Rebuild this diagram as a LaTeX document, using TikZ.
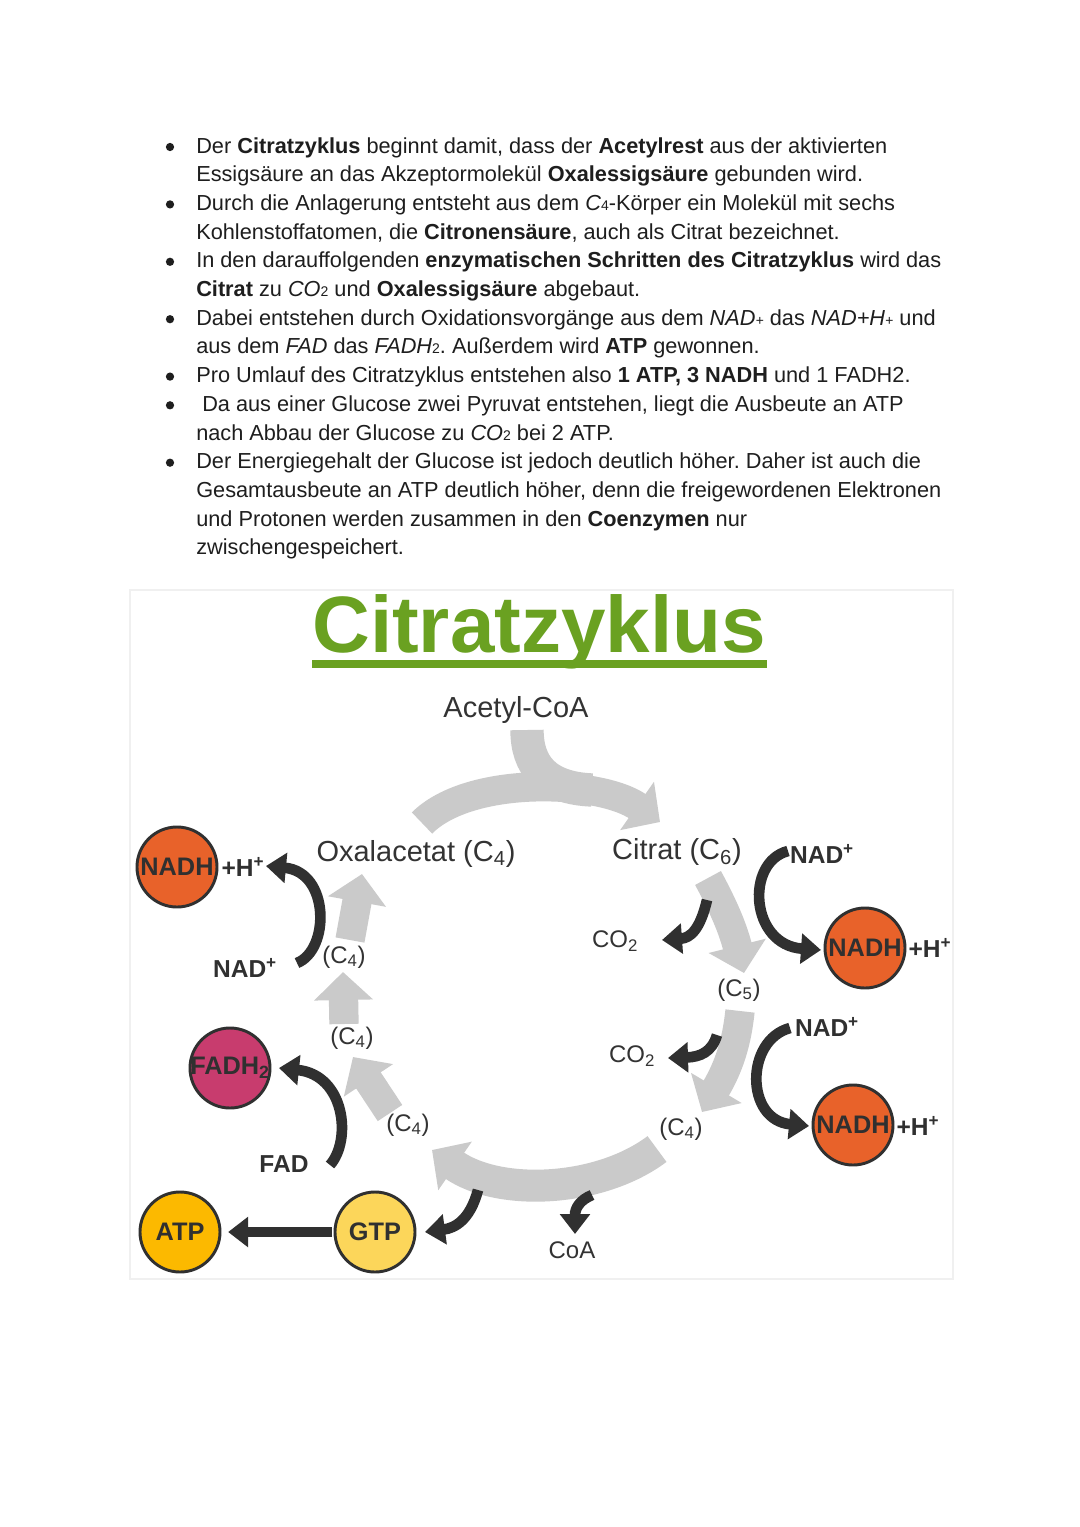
\documentclass[tikz,border=0pt]{standalone}
\usepackage{fontspec}
\setmainfont{Liberation Sans}
\usetikzlibrary{arrows.meta}
\frenchspacing
\definecolor{bodytxt}{HTML}{1E1E1E}
\definecolor{labtxt}{HTML}{333333}
\definecolor{darkarr}{HTML}{303030}
\definecolor{bandgray}{HTML}{CACACA}
\definecolor{titlegreen}{HTML}{6AA121}
\definecolor{nadhorange}{HTML}{E8622A}
\definecolor{fadhmag}{HTML}{C83C6E}
\definecolor{atpyellow}{HTML}{FCB900}
\definecolor{gtpyellow}{HTML}{FCD65A}
\definecolor{framegray}{HTML}{F0F0F0}
\newcommand{\mysub}[1]{{\fontsize{10.5}{10}\selectfont #1}}
\tikzset{
  bodyline/.style={anchor=base west, inner sep=0pt, text=bodytxt, font=\fontsize{16.3}{19}\selectfont},
  bulletdot/.style={circle, fill=bodytxt, inner sep=0pt, minimum size=6.2pt},
  biglab/.style={inner sep=0pt, text=labtxt, font=\fontsize{21.75}{24}\selectfont},
  smalllab/.style={inner sep=0pt, text=labtxt, font=\fontsize{18}{20}\selectfont},
  boldlab/.style={inner sep=0pt, text=darkarr, font=\bfseries\fontsize{18.4}{20}\selectfont},
  molcirc/.style={circle, draw=darkarr, line width=2.2pt, minimum size=60pt, inner sep=0pt, text=darkarr, font=\bfseries\fontsize{19}{20}\selectfont},
  gband/.style={draw=bandgray, line width=22pt, -{Triangle[width=43pt,length=21pt]}},
  gstem/.style={draw=bandgray, line width=25pt},
  darr/.style={draw=darkarr, line width=8pt, -{Triangle[width=22pt,length=15pt]}}
}
\begin{document}
\begin{tikzpicture}[x=0.75pt,y=-0.75pt]
\useasboundingbox (0,0) rectangle (1080,1527);
\fill[white] (0,0) rectangle (1080,1527);

% ---------- bullet text ----------
\node[bulletdot] (b1) at (170,147) {};
\node[bodyline] (l1) at (196,153) {Der \textbf{Citratzyklus} beginnt damit, dass der \textbf{Acetylrest} aus der aktivierten};
\node[bodyline] (l2) at (196,181.7) {Essigsäure an das Akzeptormolekül \textbf{Oxalessigsäure} gebunden wird.};
\node[bulletdot] (b3) at (170,204.4) {};
\node[bodyline] (l3) at (196,210.4) {Durch die Anlagerung entsteht aus dem \textit{C}\mysub{4}-Körper ein Molekül mit sechs};
\node[bodyline] (l4) at (196,239.1) {Kohlenstoffatomen, die \textbf{Citronensäure}, auch als Citrat bezeichnet.};
\node[bulletdot] (b5) at (170,261.8) {};
\node[bodyline] (l5) at (196,267.8) {In den darauffolgenden \textbf{enzymatischen Schritten des Citratzyklus} wird das};
\node[bodyline] (l6) at (196,296.5) {\textbf{Citrat} zu \textit{CO}\mysub{2} und \textbf{Oxalessigsäure} abgebaut.};
\node[bulletdot] (b7) at (170,319.2) {};
\node[bodyline] (l7) at (196,325.2) {Dabei entstehen durch Oxidationsvorgänge aus dem \textit{NAD}\mysub{\textit{+}} das \textit{NAD+H}\mysub{\textit{+}} und};
\node[bodyline] (l8) at (196,353.9) {aus dem \textit{FAD} das \textit{FADH}\mysub{2}. Außerdem wird \textbf{ATP} gewonnen.};
\node[bulletdot] (b9) at (170,376.6) {};
\node[bodyline] (l9) at (196,382.6) {Pro Umlauf des Citratzyklus entstehen also \textbf{1 ATP, 3 NADH} und 1 FADH2.};
\node[bulletdot] (b10) at (170,405.3) {};
\node[bodyline] (l10) at (202,411.3) {Da aus einer Glucose zwei Pyruvat entstehen, liegt die Ausbeute an ATP};
\node[bodyline] (l11) at (196,440) {nach Abbau der Glucose zu \textit{CO}\mysub{2} bei 2 ATP.};
\node[bulletdot] (b12) at (170,462.7) {};
\node[bodyline] (l12) at (196,468.7) {Der Energiegehalt der Glucose ist jedoch deutlich höher. Daher ist auch die};
\node[bodyline] (l13) at (196,497.4) {Gesamtausbeute an ATP deutlich höher, denn die freigewordenen Elektronen};
\node[bodyline] (l14) at (196,526.1) {und Protonen werden zusammen in den \textbf{Coenzymen} nur};
\node[bodyline] (l15) at (196,554.8) {zwischengespeichert.};

% ---------- diagram frame ----------
\draw[framegray, line width=1.2pt] (130,590) rectangle (953,1279);

% ---------- title ----------
\node[anchor=base, inner sep=0pt, text=titlegreen, font=\bfseries\fontsize{60}{64}\selectfont] (title) at (539,652) {Citratzyklus};
\draw[titlegreen, line width=6pt] (312,664) -- (767,664);

% ---------- gray cycle bands ----------
\coordinate (gA0) at (527,730);
\coordinate (gA1) at (592,790);
\coordinate (gT0) at (422,823);
\coordinate (gT1) at (660,822);
\coordinate (gR10) at (708,878);
\coordinate (gR11) at (744,973);
\coordinate (gR20) at (740,1011);
\coordinate (gR21) at (702,1112);
\coordinate (gB0) at (657,1149);
\coordinate (gB1) at (432,1150);
\coordinate (gL10) at (390,1113);
\coordinate (gL11) at (353,1057);
\coordinate (gL20) at (344,1024);
\coordinate (gL21) at (343,972);
\coordinate (gL30) at (350,940);
\coordinate (gL31) at (362,874);

\draw[gstem] (gA0) .. controls (527,765) and (545,788) .. (gA1);
\draw[gband] (gT0) .. controls (470,775) and (600,780) .. (gT1);
\draw[gband] (gR10) .. controls (720,900) and (732,925) .. (gR11);
\draw[gband] (gR20) .. controls (737,1040) and (730,1065) .. (gR21);
\draw[gband, line width=24pt] (gB0) .. controls (600,1192) and (500,1197) .. (gB1);
\draw[gband] (gL10) -- (gL11);
\draw[gband] (gL20) -- (gL21);
\draw[gband] (gL30) -- (gL31);

% ---------- labels ----------
\node[biglab] (acetyl) at (516,710) {Acetyl-CoA};
\node[biglab] (oxal) at (416,854) {Oxalacetat (C\textsubscript{4})};
\node[biglab] (citrat) at (677,852) {Citrat (C\textsubscript{6})};
\node[smalllab] (co2a) at (615,941) {CO\textsubscript{2}};
\node[smalllab] (c5) at (739,990) {(C\textsubscript{5})};
\node[smalllab] (co2b) at (632,1056) {CO\textsubscript{2}};
\node[smalllab] (c4r) at (681,1129) {(C\textsubscript{4})};
\node[smalllab] (c4b) at (408,1125) {(C\textsubscript{4})};
\node[smalllab] (c4l1) at (352,1038) {(C\textsubscript{4})};
\node[smalllab] (c4l2) at (344,957) {(C\textsubscript{4})};
\node[smalllab] (coa) at (572,1250) {CoA};

% ---------- molecules ----------
\node[molcirc, fill=nadhorange] (nadhL) at (177,867) {\makebox[0pt]{NADH}};
\node[boldlab] (hL) at (243,867) {+H\textsuperscript{+}};
\node[boldlab] (nadL) at (245,968) {NAD\textsuperscript{+}};
\node[molcirc, fill=fadhmag] (fadh) at (230,1068) {\makebox[0pt]{FADH\textsubscript{2}}};
\node[boldlab] (fad) at (284,1164) {FAD};
\node[molcirc, fill=atpyellow] (atp) at (180,1232) {\makebox[0pt]{ATP}};
\node[molcirc, fill=gtpyellow] (gtp) at (375,1232) {\makebox[0pt]{GTP}};
\node[boldlab] (nadR1) at (822,854) {NAD\textsuperscript{+}};
\node[molcirc, fill=nadhorange] (nadhR1) at (865,948) {\makebox[0pt]{NADH}};
\node[boldlab] (hR1) at (930,948) {+H\textsuperscript{+}};
\node[boldlab] (nadR2) at (827,1027) {NAD\textsuperscript{+}};
\node[molcirc, fill=nadhorange] (nadhR2) at (853,1125) {\makebox[0pt]{NADH}};
\node[boldlab] (hR2) at (918,1126) {+H\textsuperscript{+}};

% ---------- dark arrows ----------
\coordinate (dNL0) at (297,963);
\coordinate (dNL1) at (266,866);
\coordinate (dF0) at (330,1165);
\coordinate (dF1) at (279,1068);
\coordinate (dR10) at (788,851);
\coordinate (dR11) at (821,950);
\coordinate (dR20) at (790,1028);
\coordinate (dR21) at (809,1126);
\coordinate (dC10) at (707,900);
\coordinate (dC11) at (662,940);
\coordinate (dC20) at (717,1035);
\coordinate (dC21) at (668,1058);
\coordinate (dG0) at (478,1190);
\coordinate (dG1) at (425,1232);
\coordinate (dCo0) at (592,1195);
\coordinate (dCo1) at (575,1234);

\draw[darr] (dNL0) .. controls (330,950) and (330,872) .. (dNL1);
\draw[darr] (dF0) .. controls (352,1140) and (345,1075) .. (dF1);
\draw[darr] (dR10) .. controls (745,862) and (750,945) .. (dR11);
\draw[darr] (dR20) .. controls (745,1040) and (745,1120) .. (dR21);
\draw[darr] (dC10) .. controls (700,930) and (690,938) .. (dC11);
\draw[darr] (dC20) .. controls (712,1052) and (700,1057) .. (dC21);
\draw[darr] (dG0) .. controls (470,1220) and (455,1228) .. (dG1);
\draw[darr] (dCo0) .. controls (580,1200) and (575,1208) .. (dCo1);
\draw[darr, shorten <=1pt, shorten >=5pt] (gtp.west) -- (atp.east);
\end{tikzpicture}
\end{document}
